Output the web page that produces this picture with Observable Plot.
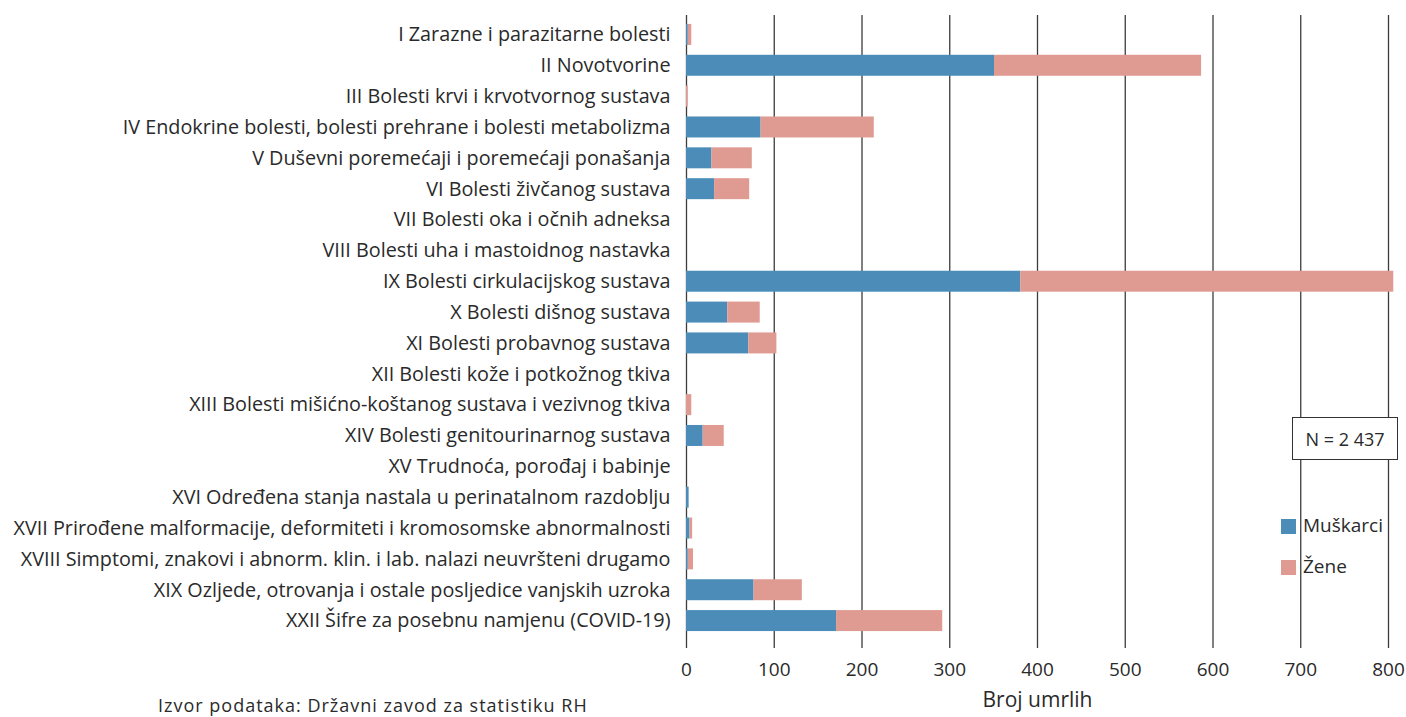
<!DOCTYPE html>
<html>
<head>
<meta charset="utf-8">
<script src="https://cdn.jsdelivr.net/npm/d3@7"></script>
<script src="https://cdn.jsdelivr.net/npm/@observablehq/plot@0.6"></script>
<style>
  html, body { margin: 0; padding: 0; background: #fff; }
  #wrap { position: relative; width: 1406px; height: 717px; font-family: "Open Sans", "Noto Sans", sans-serif; color: #2a2a2a; }
  .ov { position: absolute; white-space: nowrap; }
  #nbox { left: 1292px; top: 417px; width: 106px; height: 43px; border: 1px solid #333; background: #fff; box-sizing: border-box; font-size: 18px; display: flex; align-items: center; justify-content: center; }
  .sw { position: absolute; width: 15px; height: 15px; }
  .lt { font-size: 19px; }
  #src { left: 158px; top: 693px; font-size: 18px; letter-spacing: 1px; }
</style>
</head>
<body>
<div id="wrap"></div>
<script>
const categories = [
  "I Zarazne i parazitarne bolesti",
  "II Novotvorine",
  "III Bolesti krvi i krvotvornog sustava",
  "IV Endokrine bolesti, bolesti prehrane i bolesti metabolizma",
  "V Duševni poremećaji i poremećaji ponašanja",
  "VI Bolesti živčanog sustava",
  "VII Bolesti oka i očnih adneksa",
  "VIII Bolesti uha i mastoidnog nastavka",
  "IX Bolesti cirkulacijskog sustava",
  "X Bolesti dišnog sustava",
  "XI Bolesti probavnog sustava",
  "XII Bolesti kože i potkožnog tkiva",
  "XIII Bolesti mišićno-koštanog sustava i vezivnog tkiva",
  "XIV Bolesti genitourinarnog sustava",
  "XV Trudnoća, porođaj i babinje",
  "XVI Određena stanja nastala u perinatalnom razdoblju",
  "XVII Prirođene malformacije, deformiteti i kromosomske abnormalnosti",
  "XVIII Simptomi, znakovi i abnorm. klin. i lab. nalazi neuvršteni drugamo",
  "XIX Ozljede, otrovanja i ostale posljedice vanjskih uzroka",
  "XXII Šifre za posebnu namjenu (COVID-19)"
];
const muskarci = [2, 351, 0, 85, 29, 32, 0, 0, 381, 47, 71, 0, 0, 19, 0, 3, 4, 2, 77, 171];
const zene     = [4, 236, 2, 129, 46, 40, 0, 0, 425, 37, 32, 0, 6, 24, 0, 0, 3, 6, 55, 121];
const seriesNames = ["Muškarci", "Žene"];
const seriesColors = ["#4b8db8", "#df9b92"];
const xTicks = [0, 100, 200, 300, 400, 500, 600, 700, 800];
const xLabel = "Broj umrlih";
const totalLabel = "N = 2 437";
const sourceLabel = "Izvor podataka: Državni zavod za statistiku RH";

const rows = [];
categories.forEach((c, i) => rows.push({cat: c, sex: seriesNames[0], value: muskarci[i]}));
categories.forEach((c, i) => rows.push({cat: c, sex: seriesNames[1], value: zene[i]}));

const chart = Plot.plot({
  width: 1406,
  height: 717,
  marginLeft: 686,
  marginRight: 18,
  marginTop: 19,
  marginBottom: 81,
  style: {fontFamily: "'Open Sans', 'Noto Sans', sans-serif", color: "#2a2a2a", background: "#fff"},
  x: {domain: [0, 800], ticks: xTicks, label: null, tickSize: 0, tickPadding: 0},
  y: {domain: categories, label: null, tickSize: 0, paddingInner: 0.32, paddingOuter: 0.16, round: false},
  color: {domain: seriesNames, range: seriesColors},
  marks: [
    Plot.ruleX(xTicks, {stroke: "#3c3c3c", strokeWidth: 1.3, insetTop: -4, insetBottom: -12}),
    Plot.barX(rows, {y: "cat", x: "value", fill: "sex"}),
    Plot.axisY({tickSize: 0, tickPadding: 16, fontSize: 19.8, fill: "#2a2a2a", label: null}),
    Plot.axisX({ticks: xTicks, tickSize: 0, tickPadding: 26, fontSize: 19, fill: "#2a2a2a", label: null}),
    Plot.text([xLabel], {frameAnchor: "bottom", dy: 70, fontSize: 21, fill: "#2a2a2a"})
  ]
});

const wrap = document.getElementById("wrap");
wrap.appendChild(chart);

const nbox = document.createElement("div");
nbox.className = "ov"; nbox.id = "nbox"; nbox.textContent = totalLabel;
wrap.appendChild(nbox);

seriesNames.forEach((name, i) => {
  const sw = document.createElement("div");
  sw.className = "sw";
  sw.style.left = "1281px";
  sw.style.top = (519 + i * 41) + "px";
  sw.style.background = seriesColors[i];
  wrap.appendChild(sw);
  const t = document.createElement("div");
  t.className = "ov lt";
  t.style.left = "1303px";
  t.style.top = (512 + i * 41) + "px";
  t.textContent = name;
  wrap.appendChild(t);
});

const src = document.createElement("div");
src.className = "ov"; src.id = "src"; src.textContent = sourceLabel;
wrap.appendChild(src);
</script>
</body>
</html>
